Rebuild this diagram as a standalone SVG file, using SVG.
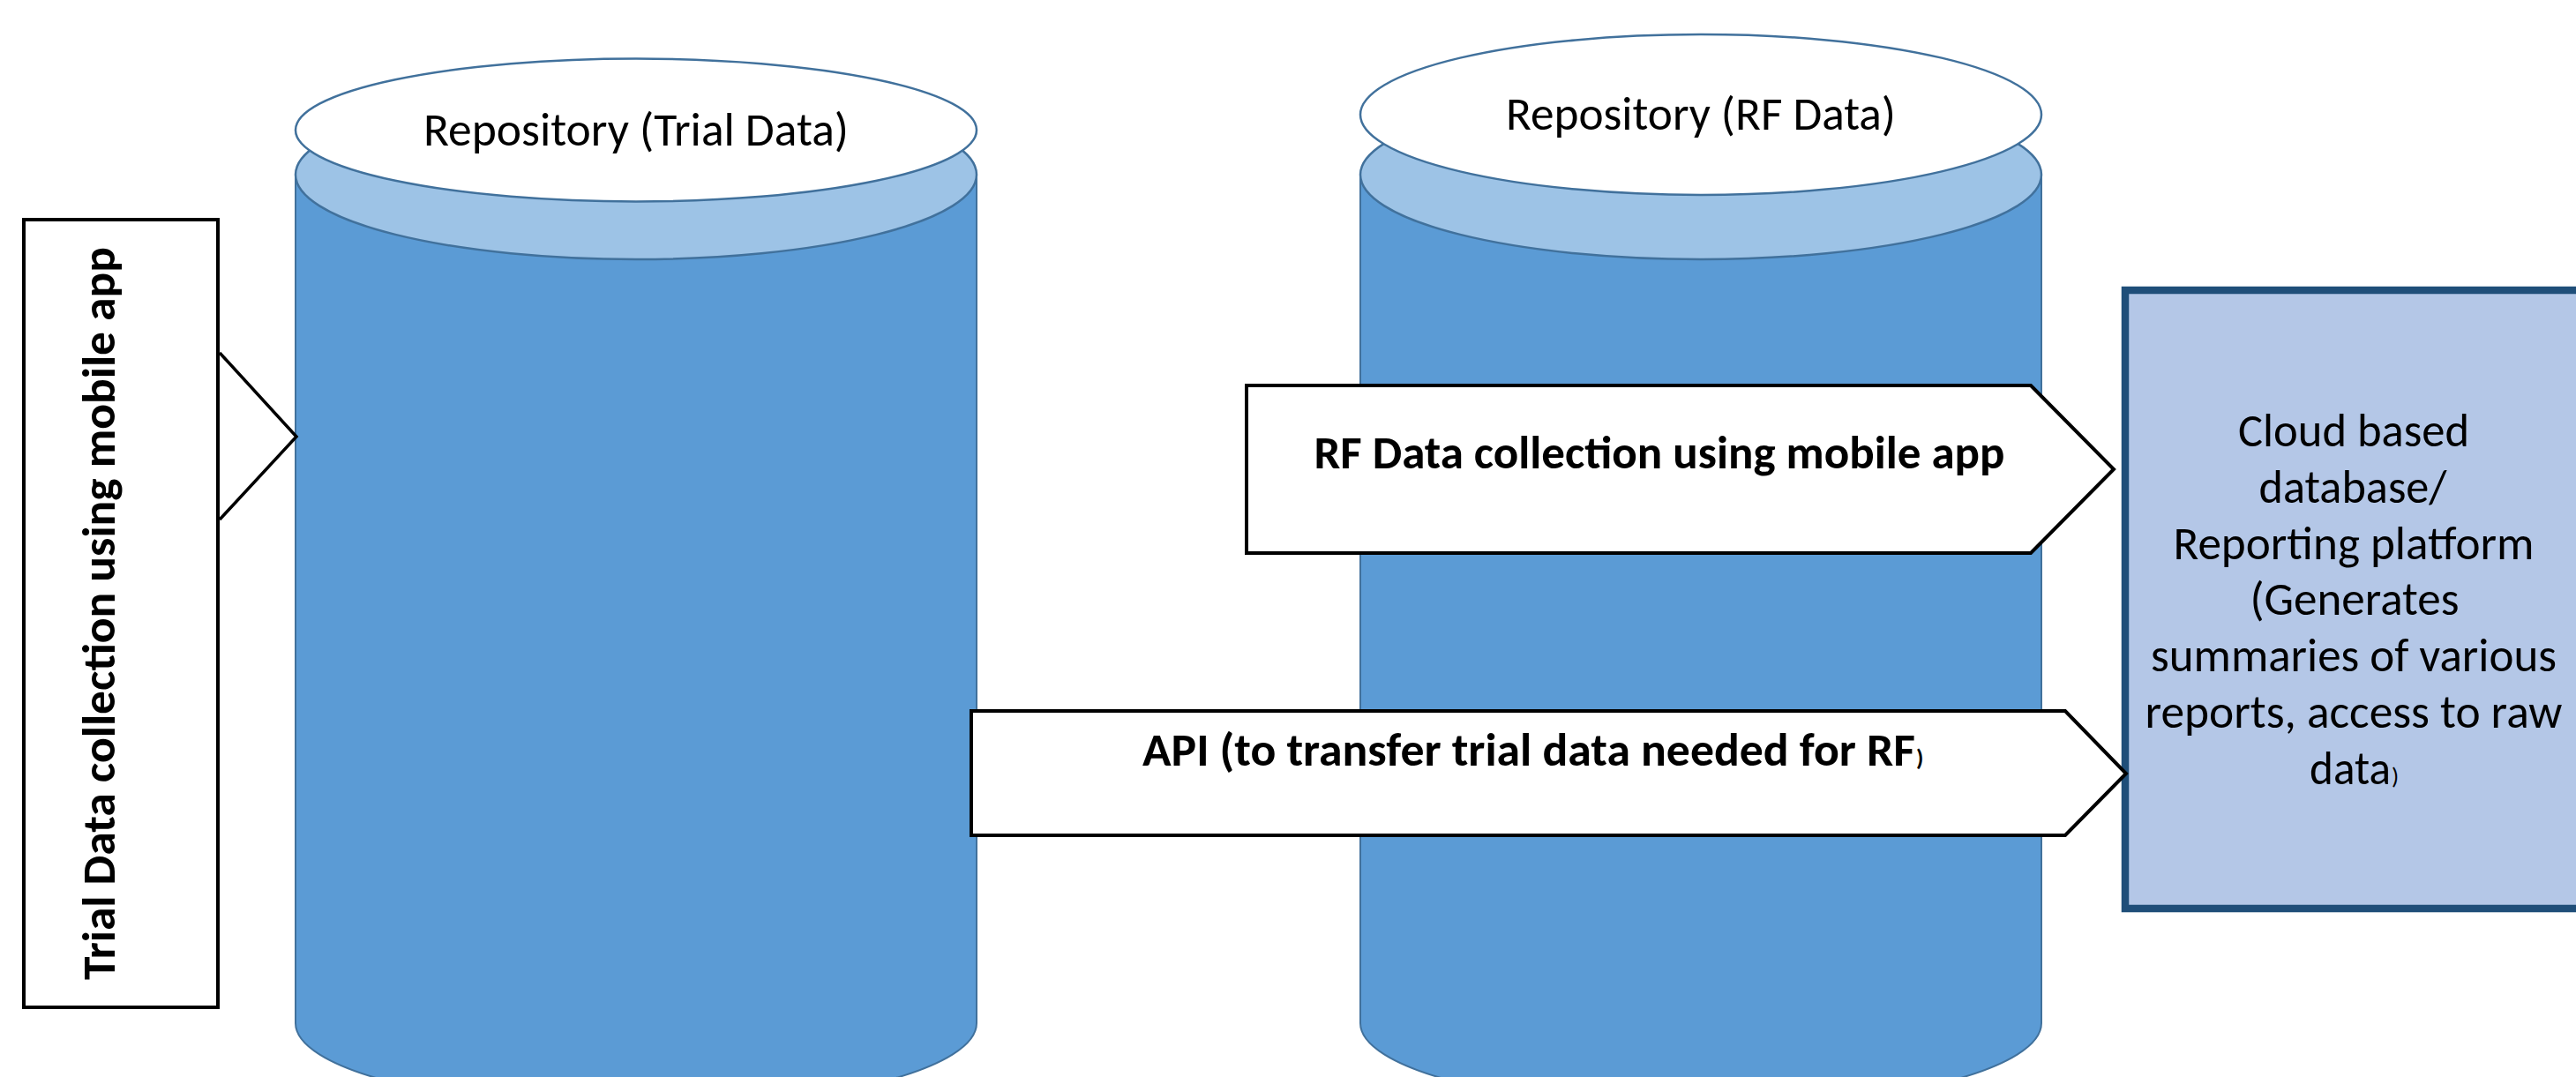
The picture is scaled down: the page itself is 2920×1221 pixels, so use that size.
<svg xmlns="http://www.w3.org/2000/svg" width="2920" height="1221" viewBox="0 0 2920 1221">
<style>
.body{fill:#5B9BD5;stroke:#41719C;stroke-width:2}
.top{fill:#9DC3E6;stroke:#41719C;stroke-width:2.5}
.cap{fill:#FFFFFF;stroke:#41719C;stroke-width:2.5}
.blk{fill:#FFFFFF;stroke:#000000;stroke-width:4;stroke-linejoin:miter}
.t{font-family:Carlito,"Liberation Sans",Arial,sans-serif;font-size:53.3px;fill:#000000}
.b{font-weight:bold}
.c{text-anchor:middle}
</style>
<rect x="0" y="0" width="2920" height="1221" fill="#FFFFFF"/>

<g id="repo-trial">
<path class="body" d="M335,198 L335,1160 A386,96 0 0 0 1107,1160 L1107,198 Z"/>
<ellipse class="top" cx="721" cy="198" rx="386" ry="96"/>
<ellipse class="cap" cx="721" cy="147.5" rx="386" ry="81"/>
<text class="t c" x="721" y="165" textLength="482" lengthAdjust="spacingAndGlyphs">Repository (Trial Data)</text>
</g>

<g id="repo-rf">
<path class="body" d="M1542,198 L1542,1160 A386,96 0 0 0 2314,1160 L2314,198 Z"/>
<ellipse class="top" cx="1928" cy="198" rx="386" ry="96"/>
<ellipse class="cap" cx="1928" cy="130" rx="386" ry="91"/>
<text class="t c" x="1928" y="147" textLength="442" lengthAdjust="spacingAndGlyphs">Repository (RF Data)</text>
</g>

<g id="trial-collection">
<rect class="blk" x="27" y="249" width="220" height="893"/>
<text class="t b c" transform="translate(130,695.5) rotate(-90)" x="0" y="0" textLength="831" lengthAdjust="spacingAndGlyphs">Trial Data collection using mobile app</text>
</g>

<g id="cloud-platform">
<rect x="2409" y="329" width="540" height="701" fill="#B4C7E7" stroke="#1F4E79" stroke-width="8.5"/>
<text class="t c" x="2668" y="506" textLength="262" lengthAdjust="spacingAndGlyphs">Cloud based</text>
<text class="t c" x="2667" y="570" textLength="213" lengthAdjust="spacingAndGlyphs">database/</text>
<text class="t c" x="2668" y="634" textLength="409" lengthAdjust="spacingAndGlyphs">Reporting platform</text>
<text class="t c" x="2669" y="697" textLength="237" lengthAdjust="spacingAndGlyphs">(Generates</text>
<text class="t c" x="2668" y="761" textLength="460" lengthAdjust="spacingAndGlyphs">summaries of various</text>
<text class="t c" x="2668" y="825" textLength="473" lengthAdjust="spacingAndGlyphs">reports, access to raw</text>
<text class="t" x="2618" y="889" textLength="92" lengthAdjust="spacingAndGlyphs">data</text>
<text class="t" x="2711" y="889" style="font-size:27px">)</text>
</g>

<g id="rf-collection">
<polygon class="blk" points="1413,437 2302,437 2396,532 2302,627 1413,627"/>
<text class="t b c" x="1881" y="531" textLength="783" lengthAdjust="spacingAndGlyphs">RF Data collection using mobile app</text>
</g>

<g id="api-transfer">
<polygon class="blk" points="1101,806 2341,806 2410,877 2341,947 1101,947"/>
<text class="t b" x="1295" y="868" textLength="876" lengthAdjust="spacingAndGlyphs">API (to transfer trial data needed for RF</text>
<text class="t b" x="2172" y="868" style="font-size:27px">)</text>
</g>

<g id="connectors">
<polyline points="249,400 336,495 249,589" fill="none" stroke="#000000" stroke-width="3.5" stroke-linejoin="miter"/>
</g>
</svg>
